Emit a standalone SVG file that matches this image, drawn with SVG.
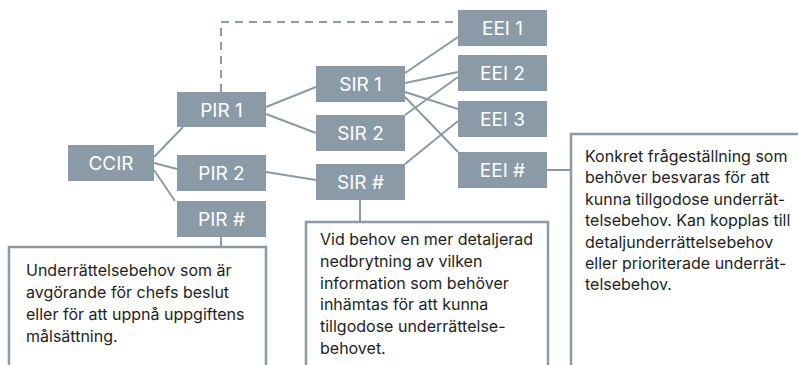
<svg xmlns="http://www.w3.org/2000/svg" width="798" height="365" viewBox="0 0 798 365">
<style>
.node rect{fill:#8a9ba7}
.node text{fill:#ffffff;font-family:Inter,"Liberation Sans",sans-serif;font-size:19px;text-anchor:middle}
.conn line,.conn path{stroke:#8a9ba7;stroke-width:2;fill:none}
.conn .dash{stroke-dasharray:8 6}
.note rect{fill:#ffffff;stroke:#8a9ba7;stroke-width:2.5}
.note text{fill:#1e1e1e;font-family:Inter,"Liberation Sans",sans-serif;font-size:16px}
</style>
<rect width="798" height="365" fill="#ffffff"/>
<g id="connectors" class="conn">
<path class="dash" d="M221,92 V22 H458"/>
<line x1="154" y1="157" x2="183" y2="127"/>
<line x1="154" y1="163" x2="177" y2="169"/>
<line x1="154" y1="170" x2="175" y2="201"/>
<line x1="266" y1="107" x2="316" y2="87"/>
<line x1="266" y1="114" x2="316" y2="133"/>
<line x1="266" y1="172" x2="316" y2="180"/>
<line x1="405" y1="73" x2="458" y2="37"/>
<line x1="405" y1="83" x2="458" y2="72"/>
<line x1="405" y1="115" x2="458" y2="77"/>
<line x1="405" y1="92" x2="458" y2="109"/>
<line x1="405" y1="97" x2="458" y2="152"/>
<line x1="405" y1="164" x2="458" y2="121"/>
<line x1="547" y1="170" x2="571" y2="170"/>
<line x1="221" y1="237" x2="221" y2="247"/>
<line x1="360" y1="200" x2="360" y2="222"/>
</g>
<g id="ccir" class="node"><rect x="68" y="145" width="86" height="36"/><text x="111" y="170">CCIR</text></g>
<g id="pir1" class="node"><rect x="177" y="92" width="89" height="35"/><text x="221.5" y="116.5">PIR 1</text></g>
<g id="pir2" class="node"><rect x="177" y="155" width="89" height="36"/><text x="221.5" y="180">PIR 2</text></g>
<g id="pirn" class="node"><rect x="177" y="201" width="89" height="36"/><text x="221.5" y="226">PIR #</text></g>
<g id="sir1" class="node"><rect x="316" y="66" width="89" height="36"/><text x="360.5" y="91">SIR 1</text></g>
<g id="sir2" class="node"><rect x="316" y="115" width="89" height="36"/><text x="360.5" y="140">SIR 2</text></g>
<g id="sirn" class="node"><rect x="316" y="164" width="89" height="36"/><text x="360.5" y="189">SIR #</text></g>
<g id="eei1" class="node"><rect x="458" y="10" width="89" height="36"/><text x="502.5" y="35">EEI 1</text></g>
<g id="eei2" class="node"><rect x="458" y="55" width="89" height="36"/><text x="502.5" y="80">EEI 2</text></g>
<g id="eei3" class="node"><rect x="458" y="101" width="89" height="36"/><text x="502.5" y="126">EEI 3</text></g>
<g id="eein" class="node"><rect x="458" y="152" width="89" height="36"/><text x="502.5" y="177">EEI #</text></g>
<g id="note-pir" class="note"><rect x="9" y="247" width="257" height="140"/>
<text x="26"><tspan x="26" y="276">Underrättelsebehov som är</tspan><tspan x="26" y="298">avgörande för chefs beslut</tspan><tspan x="26" y="320">eller för att uppnå uppgiftens</tspan><tspan x="26" y="342">målsättning.</tspan></text></g>
<g id="note-sir" class="note"><rect x="306" y="222" width="242" height="160"/>
<text x="320"><tspan x="320" y="245">Vid behov en mer detaljerad</tspan><tspan x="320" y="267">nedbrytning av vilken</tspan><tspan x="320" y="289">information som behöver</tspan><tspan x="320" y="310">inhämtas för att kunna</tspan><tspan x="320" y="332">tillgodose underrättelse-</tspan><tspan x="320" y="354">behovet.</tspan></text></g>
<g id="note-eei" class="note"><rect x="571" y="134" width="240" height="250"/>
<text x="585"><tspan x="585" y="162">Konkret frågeställning som</tspan><tspan x="585" y="183">behöver besvaras för att</tspan><tspan x="585" y="205">kunna tillgodose underrät-</tspan><tspan x="585" y="226">telsebehov. Kan kopplas till</tspan><tspan x="585" y="248">detaljunderrättelsebehov</tspan><tspan x="585" y="269">eller prioriterade underrät-</tspan><tspan x="585" y="290">telsebehov.</tspan></text></g>
</svg>
